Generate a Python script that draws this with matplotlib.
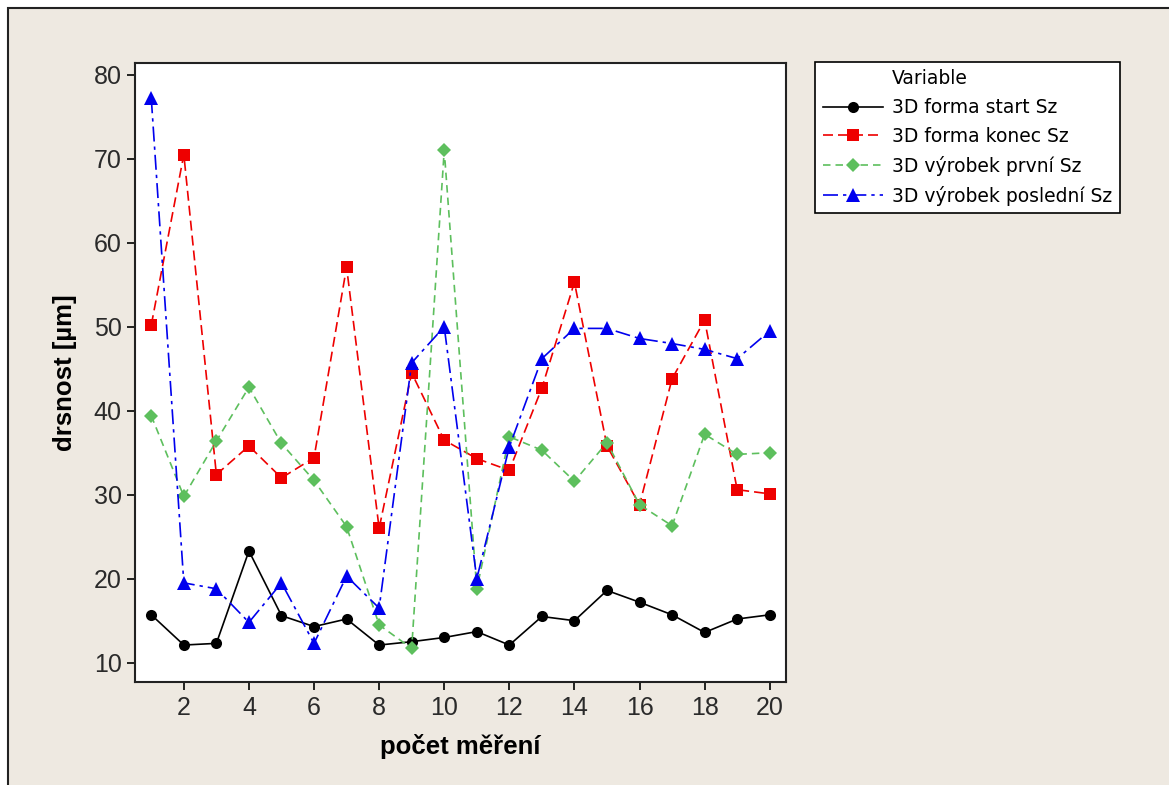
import numpy as np
import matplotlib
matplotlib.use("Agg")
import matplotlib.pyplot as plt
from matplotlib.lines import Line2D
from matplotlib.patches import Rectangle

plt.rcParams["font.family"] = ["Liberation Sans", "DejaVu Sans"]

# measurement number
pocet = np.arange(1, 21)

forma_start = [15.7, 12.1, 12.3, 23.3, 15.6, 14.3, 15.2, 12.1, 12.5, 13.0,
               13.7, 12.1, 15.5, 15.0, 18.6, 17.2, 15.7, 13.6, 15.2, 15.7]
forma_konec = [50.2, 70.5, 32.4, 35.8, 32.0, 34.4, 57.1, 26.0, 44.5, 36.5,
               34.3, 32.9, 42.7, 55.3, 35.8, 28.8, 43.8, 50.8, 30.6, 30.1]
vyrobek_prvni = [39.4, 29.8, 36.4, 42.8, 36.1, 31.7, 26.2, 14.5, 11.7, 71.0,
                 18.8, 36.9, 35.3, 31.6, 36.2, 28.8, 26.3, 37.2, 34.8, 35.0]
vyrobek_posledni = [77.2, 19.5, 18.8, 14.8, 19.5, 12.3, 20.3, 16.5, 45.7, 50.0,
                    20.0, 35.7, 46.2, 49.8, 49.8, 48.6, 48.0, 47.3, 46.2, 49.5]

labels = ["3D forma start Sz", "3D forma konec Sz",
          "3D výrobek první Sz", "3D výrobek poslední Sz"]

W, H = 1169, 785
fig = plt.figure(figsize=(W / 100, H / 100), dpi=100)
fig.patch.set_facecolor("white")

# Minitab-like grey-beige graph region
bg = Rectangle((8 / W, -0.1), 1.2, (H - 8) / H + 0.1,
               transform=fig.transFigure, facecolor="#EEE9E1",
               edgecolor="#222222", linewidth=1.5, zorder=-10)
fig.patches.append(bg)

ax = fig.add_axes([135 / W, (H - 682) / H, (786 - 135) / W, (682 - 63) / H])
ax.set_facecolor("white")

styles = [
    dict(color="black", linestyle="-", marker="o", markersize=8),
    dict(color="#EE0000", linestyle=(0, (6, 3)), marker="s", markersize=8),
    dict(color="#5DBF5D", linestyle=(0, (4.5, 3)), marker="D", markersize=7),
    dict(color="#0000EE", linestyle=(0, (9, 3, 2, 3)), marker="^", markersize=9.5),
]
series = [forma_start, forma_konec, vyrobek_prvni, vyrobek_posledni]

handles = [Line2D([], [], linestyle="none", marker="none")]
for vals, st, lab in zip(series, styles, labels):
    ln, = ax.plot(pocet, vals, linewidth=1.2, color=st["color"],
                  linestyle=st["linestyle"], marker=st["marker"],
                  markersize=st["markersize"], markeredgewidth=0,
                  label=lab)
    handles.append(ln)

ax.set_xlim(0.5, 20.5)
ax.set_ylim(7.7, 81.4)
ax.set_xticks(np.arange(2, 21, 2))
ax.set_yticks(np.arange(10, 81, 10))
ax.tick_params(axis="both", direction="out", length=6, width=1.2,
               labelsize=18, colors="black", labelcolor="#2a2a2a")
ax.tick_params(axis="x", pad=4)
for sp in ax.spines.values():
    sp.set_linewidth(1.5)
    sp.set_color("#222222")

ax.set_xlabel("počet měření", fontsize=18.5, fontweight="bold", labelpad=10)
ax.set_ylabel("drsnost [µm]", fontsize=18.5, fontweight="bold", labelpad=12)

leg = fig.legend(handles, ["Variable"] + labels, loc="upper left",
                 bbox_to_anchor=(815 / W, 1 - 62 / H),
                 prop={"family": "DejaVu Sans", "size": 13.5}, frameon=True,
                 fancybox=False, edgecolor="black", framealpha=1,
                 facecolor="white", handlelength=3.2, handletextpad=0.5,
                 labelspacing=0.52, borderpad=0.4, borderaxespad=0)
leg.get_frame().set_linewidth(1.2)

fig.savefig("out.png", dpi=100, facecolor=fig.get_facecolor())
